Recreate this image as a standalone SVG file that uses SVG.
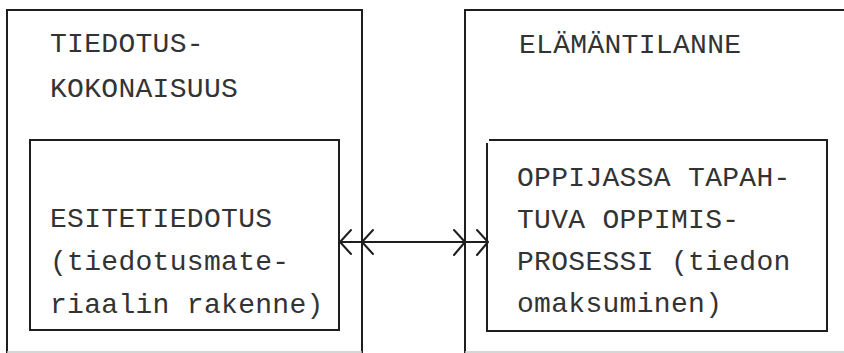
<svg xmlns="http://www.w3.org/2000/svg" width="844" height="353" viewBox="0 0 844 353">
<style>
.box{fill:none;stroke:#1e1e1e;stroke-width:2}
.faint{fill:none;stroke:#c8c8c8;stroke-width:1.5}
.t{font-family:"Liberation Mono",monospace;font-size:28px;letter-spacing:0.3px;fill:#333}
.con{fill:none;stroke:#1e1e1e;stroke-width:2;stroke-linecap:round;stroke-linejoin:round}
</style>
<rect width="844" height="353" fill="#fff"/>
<g id="tiedotuskokonaisuus">
<path class="box" d="M7,353 V10 H362 V353"/>
<path class="faint" d="M7,352 H362"/>
<text class="t" x="50" y="52">TIEDOTUS-</text>
<text class="t" x="50" y="97">KOKONAISUUS</text>
</g>
<g id="esitetiedotus">
<rect class="box" x="30" y="140" width="309" height="190"/>
<text class="t" x="50" y="227">ESITETIEDOTUS</text>
<text class="t" x="50" y="270">(tiedotusmate-</text>
<text class="t" x="50" y="313">riaalin rakenne)</text>
</g>
<g id="elamantilanne">
<path class="box" d="M465,353 V10 H846"/>
<path class="faint" d="M465,352 H844"/>
<text class="t" x="519" y="53">ELÄMÄNTILANNE</text>
</g>
<g id="oppimisprosessi">
<path class="box" d="M489,140 H827 V331 H487 V143"/>
<text class="t" x="517" y="186">OPPIJASSA TAPAH-</text>
<text class="t" x="517" y="228">TUVA OPPIMIS-</text>
<text class="t" x="517" y="270">PROSESSI (tiedon</text>
<text class="t" x="517" y="312">omaksuminen)</text>
</g>
<g id="connectors">
<path class="con" d="M340,242 H487"/>
<path class="con" d="M351,230 L340,242 L351,254"/>
<path class="con" d="M373,230 L362,242 L373,254"/>
<path class="con" d="M454,230 L465,242 L454,255"/>
<path class="con" d="M477,230 L488,242 L477,255"/>
</g>
</svg>
